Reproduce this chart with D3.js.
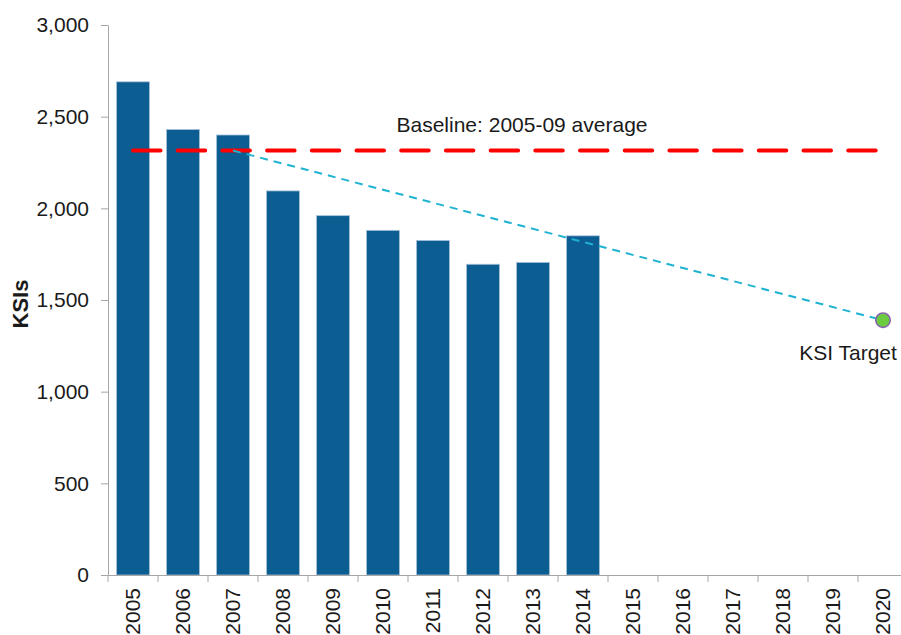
<!DOCTYPE html>
<html>
<head>
<meta charset="utf-8">
<script src="https://cdn.jsdelivr.net/npm/d3@7"></script>
<style>
  html, body { margin: 0; padding: 0; background: #ffffff; }
  svg { display: block; }
  text { font-family: "Liberation Sans", Arial, sans-serif; fill: #1a1a1a; }
</style>
</head>
<body>
<svg id="chart" width="901" height="635"></svg>
<script>
// Killed or seriously injured (KSI) casualties per year
const years = ["2005","2006","2007","2008","2009","2010","2011","2012",
               "2013","2014","2015","2016","2017","2018","2019","2020"];
const ksiYears = ["2005","2006","2007","2008","2009","2010","2011","2012","2013","2014"];
const ksiValues = [2690, 2430, 2400, 2095, 1960, 1880, 1825, 1695, 1705, 1850];

// Baseline (2005-09 average) and the 2020 target
const baselineValue = 2315;
const baselineFrom = "2005";
const baselineTo = "2020";
const trendFrom = "2007";
const targetYear = "2020";
const targetValue = 1390;

const yTicks = [0, 500, 1000, 1500, 2000, 2500, 3000];

const svg = d3.select("#chart");

const plotLeft = 108, plotRight = 908, plotTop = 25, plotBottom = 575;

const x = d3.scaleBand()
  .domain(years)
  .range([plotLeft, plotRight])
  .paddingInner(0.34)
  .paddingOuter(0.17);

const y = d3.scaleLinear()
  .domain([0, 3000])
  .range([plotBottom, plotTop]);

const cx = d => x(d) + x.bandwidth() / 2;
const fmt = d3.format(",");

// Bars
svg.append("g")
  .selectAll("rect")
  .data(ksiYears.map((yr, i) => ({ yr, v: ksiValues[i] })))
  .join("rect")
  .attr("x", d => x(d.yr))
  .attr("y", d => y(d.v))
  .attr("width", x.bandwidth())
  .attr("height", d => y(0) - y(d.v))
  .attr("fill", "#0b5d92")
  .attr("stroke", "#a9c2da")
  .attr("stroke-width", 0.8);

// Y axis
const yAxis = svg.append("g")
  .attr("transform", `translate(${plotLeft},0)`)
  .call(d3.axisLeft(y).tickValues(yTicks).tickFormat(fmt)
        .tickSize(7).tickSizeOuter(0).tickPadding(12));
yAxis.selectAll("path, line").attr("stroke", "#a6a6a6");
yAxis.selectAll("text")
  .attr("font-size", 21)
  .attr("fill", "#1a1a1a")
  .style("font-family", '"Liberation Sans", Arial, sans-serif');

// X axis: line, ticks at category boundaries, rotated year labels
const xAxis = svg.append("g")
  .attr("transform", `translate(0,${plotBottom})`)
  .call(d3.axisBottom(x).tickSize(0).tickSizeOuter(0).tickPadding(0));
xAxis.select("path").attr("stroke", "#a6a6a6");
xAxis.selectAll("text")
  .attr("font-size", 21)
  .attr("fill", "#1a1a1a")
  .style("font-family", '"Liberation Sans", Arial, sans-serif')
  .attr("text-anchor", "end")
  .attr("transform", "translate(0,13) rotate(-90)")
  .attr("x", 0)
  .attr("y", 0)
  .attr("dy", "0.35em");

const step = x.step();
svg.append("g")
  .selectAll("line")
  .data(years.concat(["end"]))
  .join("line")
  .attr("x1", d => d === "end" ? cx(years[years.length - 1]) + step / 2 : cx(d) - step / 2)
  .attr("x2", d => d === "end" ? cx(years[years.length - 1]) + step / 2 : cx(d) - step / 2)
  .attr("y1", plotBottom)
  .attr("y2", plotBottom + 7)
  .attr("stroke", "#a6a6a6");

// Y axis title
svg.append("text")
  .attr("transform", `translate(20,${(plotTop + plotBottom) / 2 + 4}) rotate(-90)`)
  .attr("text-anchor", "middle")
  .attr("dy", "0.35em")
  .attr("font-size", 22)
  .attr("font-weight", "bold")
  .text("KSIs");

// Baseline (red dashed)
svg.append("line")
  .attr("x1", cx(baselineFrom))
  .attr("x2", cx(baselineTo))
  .attr("y1", y(baselineValue))
  .attr("y2", y(baselineValue))
  .attr("stroke", "#ff0000")
  .attr("stroke-width", 4)
  .attr("stroke-linecap", "round")
  .attr("stroke-dasharray", "27.5,17.2");

svg.append("text")
  .attr("x", (cx(baselineFrom) + cx(baselineTo)) / 2 + 14)
  .attr("y", y(baselineValue) - 19)
  .attr("text-anchor", "middle")
  .attr("font-size", 21)
  .text("Baseline: 2005-09 average");

// Trajectory to the target (cyan dashed)
svg.append("line")
  .attr("x1", cx(trendFrom))
  .attr("y1", y(baselineValue))
  .attr("x2", cx(targetYear))
  .attr("y2", y(targetValue))
  .attr("stroke", "#1fb3d1")
  .attr("stroke-width", 2)
  .attr("stroke-dasharray", "8,6");

// Target marker
svg.append("circle")
  .attr("cx", cx(targetYear))
  .attr("cy", y(targetValue))
  .attr("r", 7.2)
  .attr("fill", "#6ccb3f")
  .attr("stroke", "#8a62b0")
  .attr("stroke-width", 1.6);

svg.append("text")
  .attr("x", cx(targetYear) - 35)
  .attr("y", y(targetValue) + 40)
  .attr("text-anchor", "middle")
  .attr("font-size", 21)
  .text("KSI Target");
</script>
</body>
</html>
